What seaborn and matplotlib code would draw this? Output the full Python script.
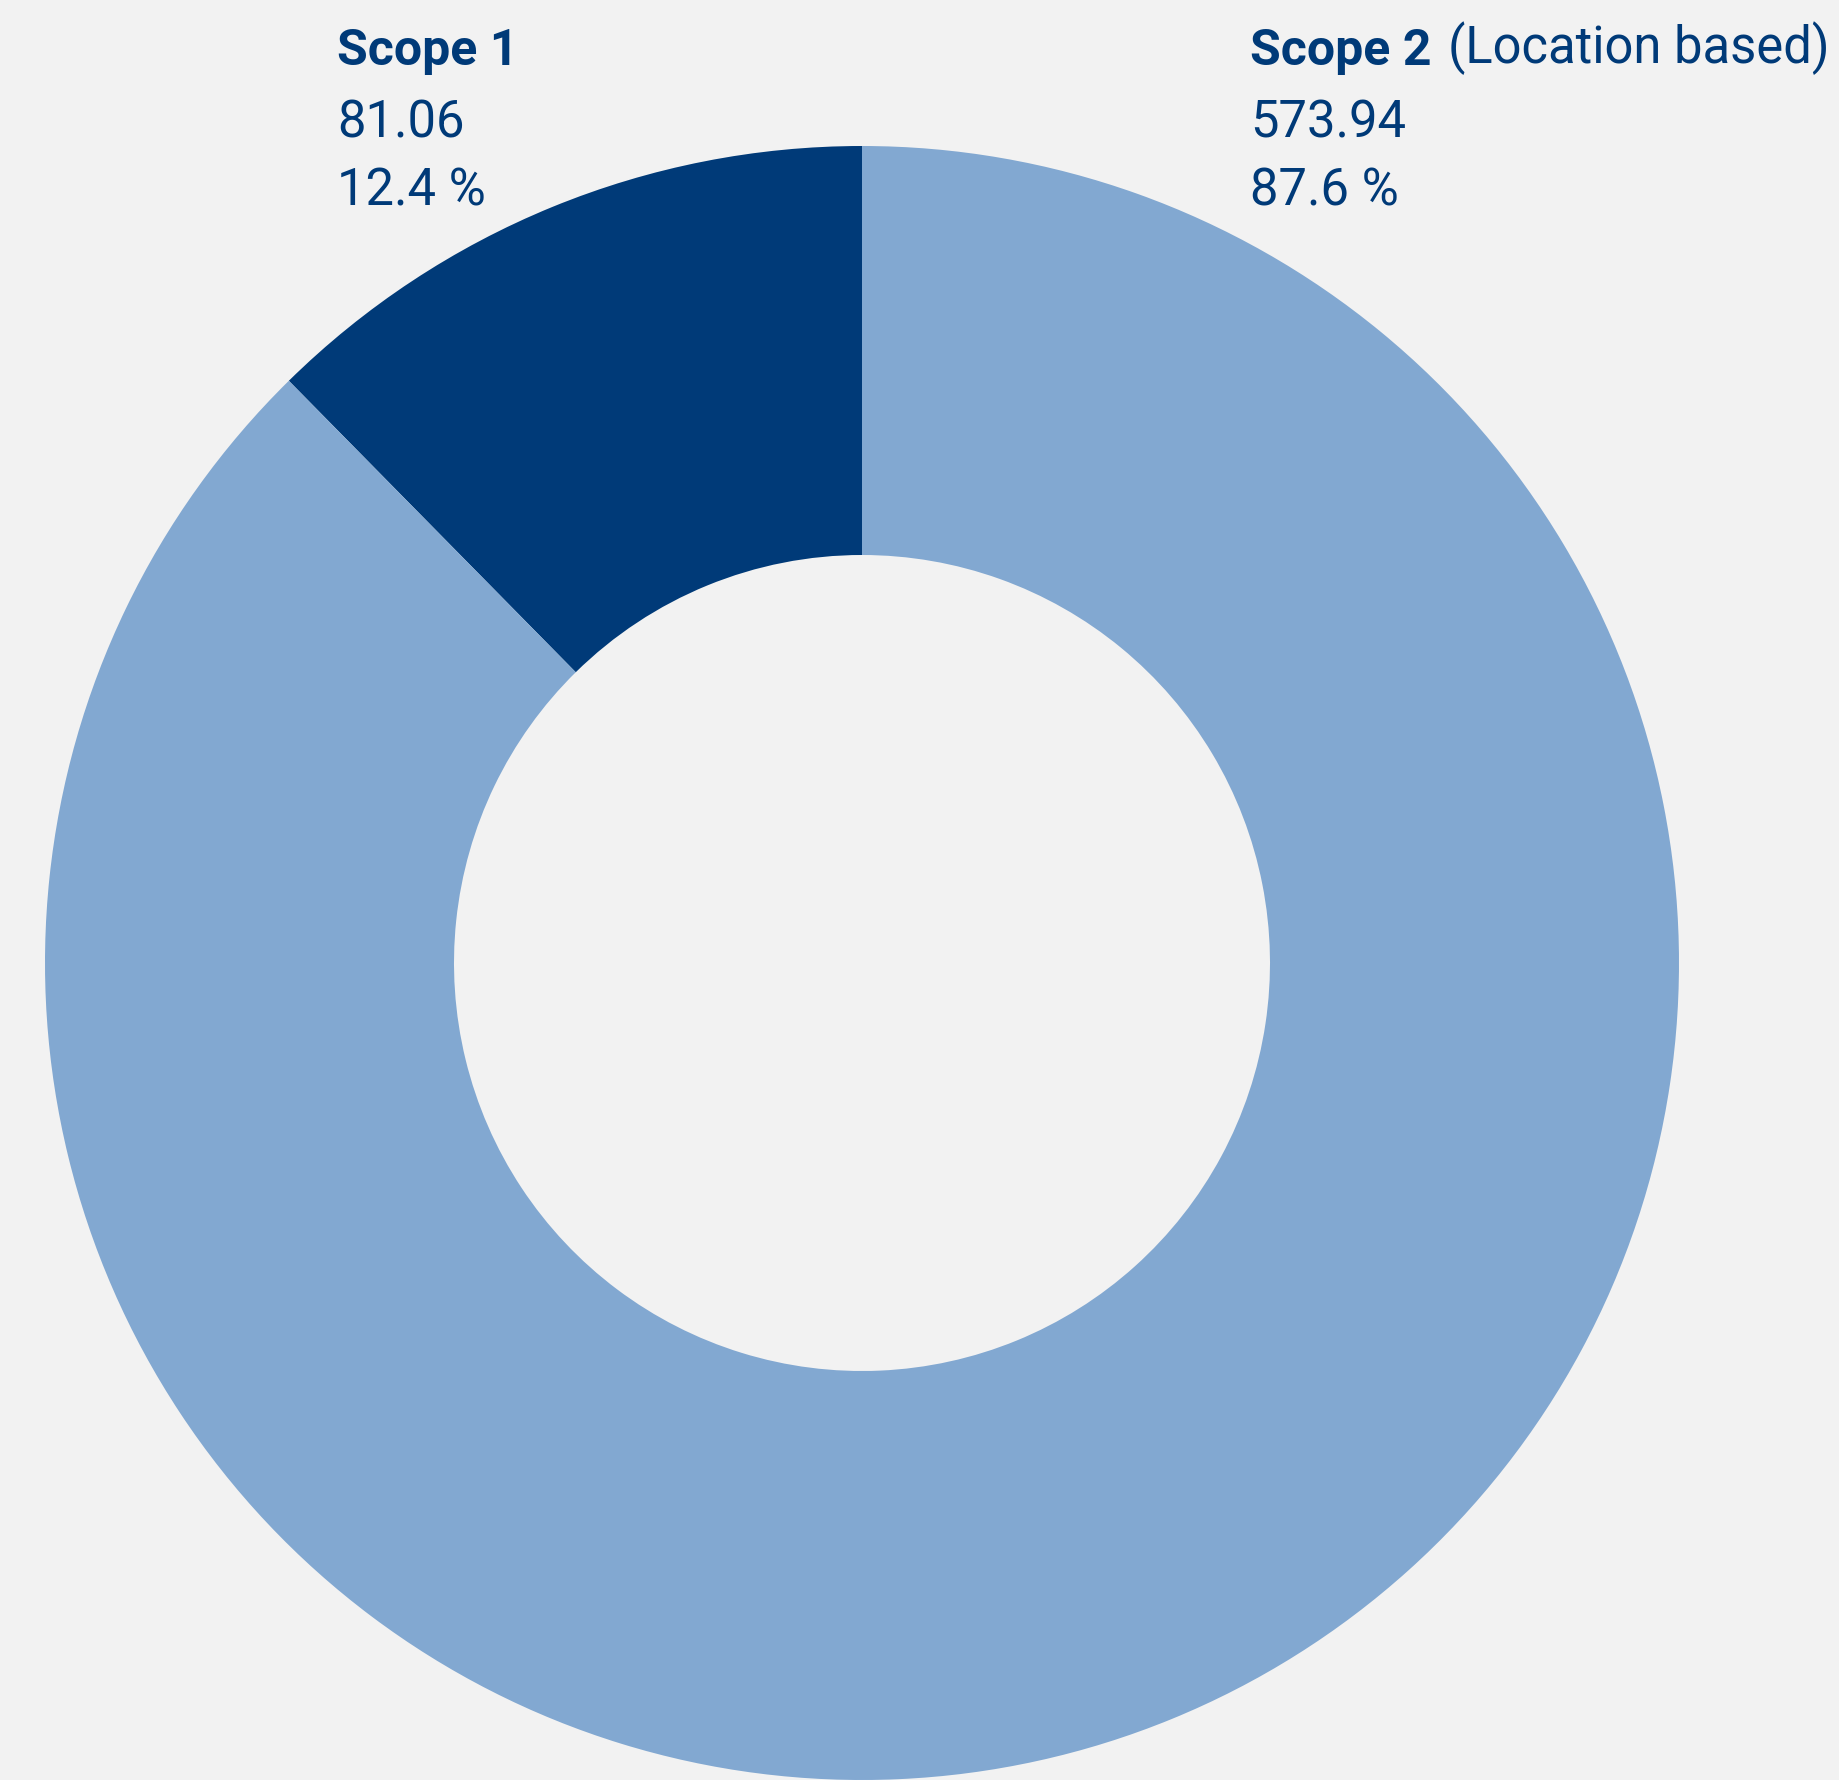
import matplotlib
matplotlib.use("Agg")
import matplotlib.pyplot as plt
import seaborn as sns

# Data
categories = ["Scope 1", "Scope 2"]
category_notes = ["", "(Location based)"]
values = [81.06, 573.94]
percent_labels = ["12.4 %", "87.6 %"]

DARK = "#003A78"
LIGHT = "#82A8D1"
BG = "#F2F2F2"

sns.set_theme(style="white")
plt.rcParams["font.family"] = ["Roboto", "DejaVu Sans"]

W, H = 1840, 1781
fig = plt.figure(figsize=(W / 100, H / 100), dpi=100, facecolor=BG)
ax = fig.add_axes([0, 0, 1, 1])
ax.set_facecolor(BG)

colors = [DARK, LIGHT]
ax.pie(values, colors=colors, startangle=90, counterclock=True,
       center=(862, 817), radius=817,
       wedgeprops=dict(width=409, linewidth=0))
ax.set_xlim(0, W)
ax.set_ylim(0, H)
ax.set_aspect("auto")
ax.axis("off")

fs = 36
line_y = [H - 65, H - 137, H - 206]
x_pos = [337, 1250]

renderer = fig.canvas.get_renderer()
for i, cat in enumerate(categories):
    x = x_pos[i]
    t = ax.text(x, line_y[0], cat, fontsize=fs, fontweight="bold", color=DARK,
                ha="left", va="baseline")
    if category_notes[i]:
        bb = t.get_window_extent(renderer=renderer)
        ax.text(bb.x1 + 17, bb.y0 + (t.get_window_extent(renderer=renderer).y0 - bb.y0),
                category_notes[i], fontsize=fs + 0.5,
                color=DARK, ha="left", va="bottom", transform=None)
    ax.text(x, line_y[1], f"{values[i]:.2f}", fontsize=fs + 0.5, color=DARK,
            ha="left", va="baseline")
    ax.text(x, line_y[2], percent_labels[i], fontsize=fs + 0.5, color=DARK,
            ha="left", va="baseline")

fig.savefig("out.png", dpi=100, facecolor=BG)
